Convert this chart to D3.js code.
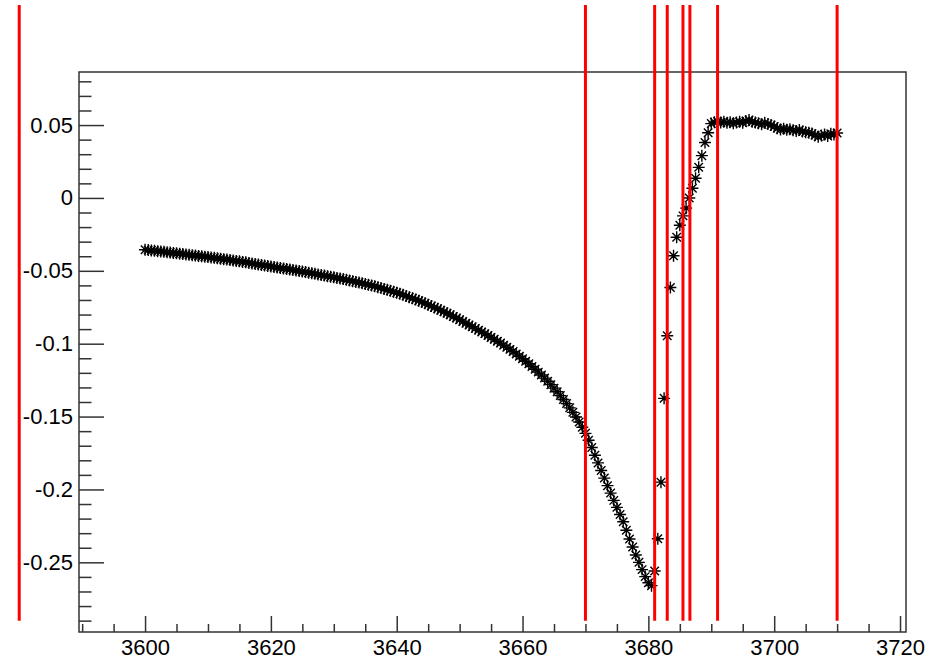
<!DOCTYPE html>
<html>
<head>
<meta charset="utf-8">
<script src="https://cdn.jsdelivr.net/npm/d3@7"></script>
<style>
    body { margin: 0; background: #fff; }
    svg { display: block; }
    .tick text { font-family: "Liberation Sans", Arial, Helvetica, sans-serif; font-size: 22px; fill: #000; }
</style>
</head>
<body>
<div id="chart"></div>
<script>
var xValues = [
    3600, 3600.5, 3601, 3601.5, 3602, 3602.5, 3603, 3603.5, 3604, 3604.5,
    3605, 3605.5, 3606, 3606.5, 3607, 3607.5, 3608, 3608.5, 3609, 3609.5,
    3610, 3610.5, 3611, 3611.5, 3612, 3612.5, 3613, 3613.5, 3614, 3614.5,
    3615, 3615.5, 3616, 3616.5, 3617, 3617.5, 3618, 3618.5, 3619, 3619.5,
    3620, 3620.5, 3621, 3621.5, 3622, 3622.5, 3623, 3623.5, 3624, 3624.5,
    3625, 3625.5, 3626, 3626.5, 3627, 3627.5, 3628, 3628.5, 3629, 3629.5,
    3630, 3630.5, 3631, 3631.5, 3632, 3632.5, 3633, 3633.5, 3634, 3634.5,
    3635, 3635.5, 3636, 3636.5, 3637, 3637.5, 3638, 3638.5, 3639, 3639.5,
    3640, 3640.5, 3641, 3641.5, 3642, 3642.5, 3643, 3643.5, 3644, 3644.5,
    3645, 3645.5, 3646, 3646.5, 3647, 3647.5, 3648, 3648.5, 3649, 3649.5,
    3650, 3650.5, 3651, 3651.5, 3652, 3652.5, 3653, 3653.5, 3654, 3654.5,
    3655, 3655.5, 3656, 3656.5, 3657, 3657.5, 3658, 3658.5, 3659, 3659.5,
    3660, 3660.5, 3661, 3661.5, 3662, 3662.5, 3663, 3663.5, 3664, 3664.5,
    3665, 3665.5, 3666, 3666.5, 3667, 3667.5, 3668, 3668.5, 3669, 3669.5,
    3670, 3670.5, 3671, 3671.5, 3672, 3672.5, 3673, 3673.5, 3674, 3674.5,
    3675, 3675.5, 3676, 3676.5, 3677, 3677.5, 3678, 3678.5, 3679, 3679.5,
    3680, 3680.5, 3681, 3681.5, 3682, 3682.5, 3683, 3683.5, 3684, 3684.5,
    3685, 3685.5, 3686, 3686.5, 3687, 3687.5, 3688, 3688.5, 3689, 3689.5,
    3690, 3690.5, 3691, 3691.5, 3692, 3692.5, 3693, 3693.5, 3694, 3694.5,
    3695, 3695.5, 3696, 3696.5, 3697, 3697.5, 3698, 3698.5, 3699, 3699.5,
    3700, 3700.5, 3701, 3701.5, 3702, 3702.5, 3703, 3703.5, 3704, 3704.5,
    3705, 3705.5, 3706, 3706.5, 3707, 3707.5, 3708, 3708.5, 3709, 3709.5,
    3710
];

var yValues = [
    -0.0355, -0.0358, -0.0360, -0.0363, -0.0365, -0.0368, -0.0370, -0.0373, -0.0375, -0.0378,
    -0.0380, -0.0383, -0.0385, -0.0388, -0.0390, -0.0393, -0.0395, -0.0398, -0.0400, -0.0403,
    -0.0405, -0.0408, -0.0411, -0.0414, -0.0417, -0.0420, -0.0423, -0.0426, -0.0429, -0.0432,
    -0.0435, -0.0439, -0.0442, -0.0446, -0.0449, -0.0453, -0.0456, -0.0460, -0.0463, -0.0467,
    -0.0470, -0.0474, -0.0477, -0.0481, -0.0484, -0.0488, -0.0491, -0.0495, -0.0498, -0.0502,
    -0.0505, -0.0509, -0.0513, -0.0517, -0.0521, -0.0525, -0.0529, -0.0533, -0.0537, -0.0541,
    -0.0545, -0.0549, -0.0553, -0.0557, -0.0562, -0.0566, -0.0571, -0.0576, -0.0580, -0.0585,
    -0.0590, -0.0595, -0.0601, -0.0606, -0.0612, -0.0618, -0.0624, -0.0630, -0.0637, -0.0644,
    -0.0651, -0.0658, -0.0665, -0.0673, -0.0681, -0.0689, -0.0697, -0.0705, -0.0714, -0.0723,
    -0.0732, -0.0742, -0.0751, -0.0761, -0.0771, -0.0781, -0.0791, -0.0802, -0.0813, -0.0824,
    -0.0835, -0.0847, -0.0859, -0.0871, -0.0883, -0.0895, -0.0907, -0.0919, -0.0931, -0.0944,
    -0.0958, -0.0970, -0.0983, -0.0996, -0.1010, -0.1024, -0.1039, -0.1054, -0.1070, -0.1086,
    -0.1103, -0.1120, -0.1138, -0.1156, -0.1175, -0.1195, -0.1215, -0.1236, -0.1258, -0.1281,
    -0.1305, -0.1330, -0.1356, -0.1383, -0.1411, -0.1440, -0.1471, -0.1503, -0.1537, -0.1573,
    -0.1615, -0.1662, -0.1712, -0.1765, -0.1818, -0.1870, -0.1922, -0.1974, -0.2025, -0.2075,
    -0.2123, -0.2172, -0.2222, -0.2280, -0.2340, -0.2395, -0.2450, -0.2500, -0.2550, -0.2598,
    -0.2640, -0.2660, -0.2560, -0.2338, -0.1950, -0.1375, -0.0945, -0.0614, -0.0397, -0.0270,
    -0.0187, -0.0123, -0.0070, 0.0000, 0.0066, 0.0135, 0.0210, 0.0290, 0.0380, 0.0447,
    0.0510, 0.0520, 0.0525, 0.0518, 0.0522, 0.0515, 0.0520, 0.0512, 0.0518, 0.0522,
    0.0515, 0.0528, 0.0535, 0.0522, 0.0518, 0.0512, 0.0505, 0.0515, 0.0508, 0.0500,
    0.0490, 0.0478, 0.0470, 0.0475, 0.0468, 0.0472, 0.0465, 0.0460, 0.0466, 0.0455,
    0.0450, 0.0448, 0.0442, 0.0430, 0.0420, 0.0428, 0.0435, 0.0425, 0.0440, 0.0435,
    0.0445
];

// red marker lines (x position, and y span in data units)
var redLineX = [3580, 3670, 3681, 3683, 3685.5, 3686.6, 3691, 3710];
var redLineY = [-0.29, 0.1323];

var xTicks = [3600, 3620, 3640, 3660, 3680, 3700, 3720];
var yTicks = [0.05, 0, -0.05, -0.1, -0.15, -0.2, -0.25];
var xDomain = [3589.5, 3720.95];
var yDomain = [-0.2978, 0.0864];

const WIDTH = 942;
const HEIGHT = 660;

var frame = {left: 79, top: 72, right: 906, bottom: 632};

var svg = d3.select("#chart").append("svg")
	.attr("width", WIDTH)
	.attr("height", HEIGHT);

svg.append("rect")
	.attr("width", WIDTH)
	.attr("height", HEIGHT)
	.style("fill", "#fff");

var x = d3.scaleLinear().domain(xDomain).range([frame.left, frame.right]);
var y = d3.scaleLinear().domain(yDomain).range([frame.bottom, frame.top]);

// minor ticks every 5 in x, every 0.01 in y
var xMinor = d3.range(3590, 3721, 5).filter(function(v) { return xTicks.indexOf(v) < 0; });
var yMinor = d3.range(-29, 9)
	.filter(function(v) { return v % 5 !== 0; })
	.map(function(v) { return v / 100; });

function styleAxis(g) {
    g.select(".domain").remove();
    g.selectAll(".tick line").style("stroke", "#333").style("stroke-width", 1.5);
}

svg.append("g")
	.attr("transform", "translate(0," + frame.bottom + ")")
	.call(d3.axisBottom(x).tickValues(xMinor).tickSizeInner(-8).tickSizeOuter(0).tickFormat(""))
	.call(styleAxis);
svg.append("g")
	.attr("transform", "translate(0," + frame.bottom + ")")
	.call(d3.axisBottom(x).tickValues(xTicks).tickSizeInner(-16).tickSizeOuter(0).tickPadding(7)
	    .tickFormat(d3.format("d")))
	.call(styleAxis);

svg.append("g")
	.attr("transform", "translate(" + frame.left + ",0)")
	.call(d3.axisLeft(y).tickValues(yMinor).tickSizeInner(-12.5).tickSizeOuter(0).tickFormat(""))
	.call(styleAxis);
svg.append("g")
	.attr("transform", "translate(" + frame.left + ",0)")
	.call(d3.axisLeft(y).tickValues(yTicks).tickSizeInner(-25).tickSizeOuter(0).tickPadding(6)
	    .tickFormat(function(d) { return d === 0 ? "0" : String(+d.toFixed(2)); }))
	.call(styleAxis);

svg.append("rect")
	.attr("x", frame.left)
	.attr("y", frame.top)
	.attr("width", frame.right - frame.left)
	.attr("height", frame.bottom - frame.top)
	.style("fill", "none")
	.style("stroke", "#333")
	.style("stroke-width", 1.5);

// asterisk marker, a "+" and an "x"
var r = 6;
var a = r * 0.707;
var star = "M" + (-r) + ",0H" + r + "M0," + (-r) + "V" + r +
	   "M" + (-a) + "," + (-a) + "L" + a + "," + a +
	   "M" + (-a) + "," + a + "L" + a + "," + (-a);

svg.append("g").selectAll("path")
	.data(xValues)
	.enter().append("path")
	.attr("transform", function(d, i) { return "translate(" + x(d) + "," + y(yValues[i]) + ")"; })
	.attr("d", star)
	.style("fill", "none")
	.style("stroke", "#000")
	.style("stroke-width", 1.4);

svg.append("g").selectAll("line")
	.data(redLineX)
	.enter().append("line")
	.attr("x1", function(d) { return x(d); })
	.attr("x2", function(d) { return x(d); })
	.attr("y1", y(redLineY[0]))
	.attr("y2", y(redLineY[1]))
	.style("stroke", "#ff0000")
	.style("stroke-width", 3);
</script>
</body>
</html>
